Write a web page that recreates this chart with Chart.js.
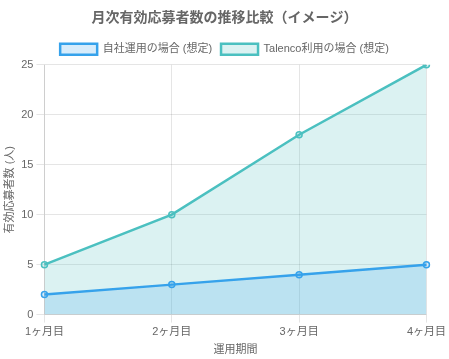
<!DOCTYPE html>
<html><head><meta charset="utf-8">
<script src="https://cdn.jsdelivr.net/npm/chart.js@4.4.0/dist/chart.umd.min.js"></script>
<style>html,body{margin:0;padding:0;background:#fff}#w{width:449px;height:359px}</style>
</head><body><div id="w"><canvas id="c"></canvas></div>
<script>
const categories = ['1ヶ月目','2ヶ月目','3ヶ月目','4ヶ月目'];
const inHouse = [2,3,4,5];
const talenco = [5,10,18,25];
Chart.defaults.font.family = "'Liberation Sans', Arial, 'Noto Sans CJK JP', sans-serif";
Chart.defaults.color = '#666';
new Chart(document.getElementById('c'), {
  type: 'line',
  data: {
    labels: categories,
    datasets: [
      {label:'自社運用の場合 (想定)', data: inHouse, borderColor:'rgb(54,162,235)', backgroundColor:'rgba(54,162,235,0.2)', fill:'origin', borderWidth:2.5, pointRadius:3, pointBorderWidth:1.5, tension:0},
      {label:'Talenco利用の場合 (想定)', data: talenco, borderColor:'rgb(75,192,192)', backgroundColor:'rgba(75,192,192,0.2)', fill:'origin', borderWidth:2.5, pointRadius:3, pointBorderWidth:1.5, tension:0}
    ]
  },
  options: {
    responsive:true, maintainAspectRatio:false, animation:false,
    plugins: {
      title:{display:true, text:'月次有効応募者数の推移比較（イメージ）', font:{size:14, weight:'bold'}, color:'#666', padding:{top:10,bottom:8}},
      legend:{labels:{font:{size:11}, boxWidth:37, boxHeight:11, padding:9}}
    },
    scales: {
      x:{title:{display:true, text:'運用期間', font:{size:11}, padding:{top:2,bottom:2}}, ticks:{font:{size:11}}},
      y:{beginAtZero:true, max:25, ticks:{stepSize:5, font:{size:11}}, title:{display:true, text:'有効応募者数 (人)', font:{size:11}, padding:{top:3,bottom:2}}}
    }
  }
});
</script></body></html>
